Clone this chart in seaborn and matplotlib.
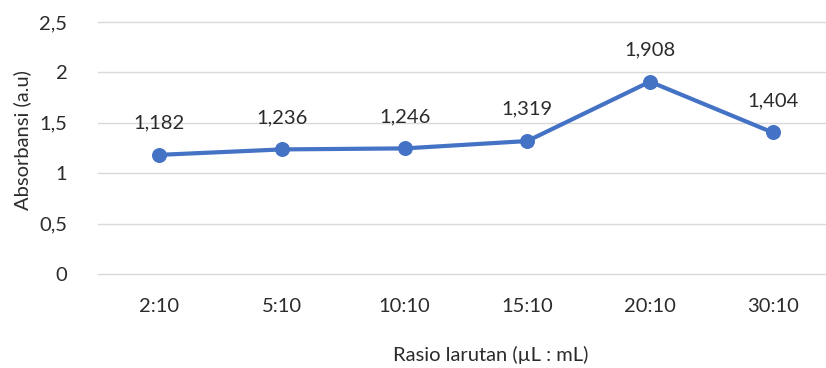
import matplotlib
matplotlib.use("Agg")
import matplotlib.pyplot as plt
import seaborn as sns
import pandas as pd

rasio = ["2:10", "5:10", "10:10", "15:10", "20:10", "30:10"]
absorbansi = [1.182, 1.236, 1.246, 1.319, 1.908, 1.404]
yticks = [0, 0.5, 1, 1.5, 2, 2.5]
ytick_labels = ["0", "0,5", "1", "1,5", "2", "2,5"]

sns.set_style("white")
plt.rcParams['font.family'] = ['Lato', 'DejaVu Sans']

df = pd.DataFrame({"Rasio": rasio, "Absorbansi": absorbansi})

fig = plt.figure(figsize=(8.26, 3.68), dpi=100)
ax = fig.add_axes([98/826, 1 - 274/368, 1 - 98/826, 252/368])

sns.lineplot(data=df, x="Rasio", y="Absorbansi", sort=False, ax=ax,
             color="#4472C4", linewidth=3, marker="o", markersize=10,
             markeredgecolor="#4472C4")

txt = "#2b2b2b"
fs = 14.5
for i, v in enumerate(absorbansi):
    ax.annotate(f"{v:.3f}".replace(".", ","), (i, v), xytext=(0, 23),
                textcoords="offset points", ha="center", va="center",
                fontsize=fs, color=txt)

ax.set_ylim(0, 2.5)
ax.set_xlim(-0.5, 5.435)
ax.set_yticks(yticks)
ax.set_yticklabels(ytick_labels)
ax.yaxis.grid(True, color="#D9D9D9", linewidth=1)
for gl in ax.get_ygridlines():
    gl.set_clip_on(False)
ax.set_axisbelow(True)
for s in ax.spines.values():
    s.set_visible(False)
ax.tick_params(axis="both", length=0, labelsize=fs, labelcolor=txt)
ax.tick_params(axis="x", pad=17)
ax.tick_params(axis="y", pad=22)
ax.set_xlabel("Rasio larutan (\u00b5L : mL)", fontsize=fs, color=txt)
ax.set_ylabel("Absorbansi (a.u)", fontsize=fs, color=txt)
ax.xaxis.set_label_coords(0.54, -0.285)
ax.yaxis.set_label_coords(-0.092, 0.53)

fig.savefig("out.png", dpi=100)
